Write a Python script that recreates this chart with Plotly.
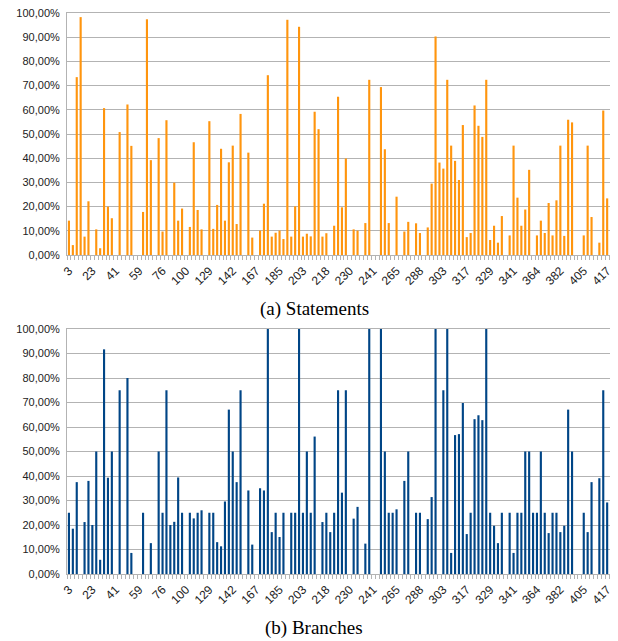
import plotly.graph_objects as go

# Tick labels shown on the category axis (every 6th category)
tick_labels = ["3", "23", "41", "59", "76", "100", "129", "142", "167", "185",
               "203", "218", "230", "241", "265", "288", "303", "317", "329",
               "341", "364", "382", "405", "417"]
label_every = 6
n_categories = 140

# Statement coverage (%) per category
statements = [
    14.2, 4.1, 73.5, 98.3, 7.6, 22.2, 0, 10.6, 2.8, 60.7,
    20.0, 15.2, 0, 50.8, 0, 62.2, 45.1, 0, 0, 17.8,
    97.4, 39.2, 0, 48.3, 9.7, 55.7, 0, 29.9, 14.2, 19.2,
    0, 11.6, 46.6, 18.6, 10.6, 0, 55.3, 10.8, 20.7, 43.9,
    14.2, 38.3, 45.2, 12.8, 58.3, 0, 42.3, 7.2, 0, 10.1,
    21.2, 74.3, 7.6, 9.2, 10.1, 6.6, 97.2, 7.6, 20.1, 94.3,
    7.6, 8.8, 7.7, 59.2, 52.0, 7.6, 9.0, 0, 12.1, 65.4,
    19.7, 39.9, 0, 10.6, 10.1, 0, 13.2, 72.4, 0, 0,
    69.4, 43.7, 13.2, 0, 24.1, 0, 9.7, 13.7, 0, 13.1,
    9.1, 0, 11.4, 29.5, 90.3, 38.2, 35.7, 72.4, 45.2, 38.9,
    31.0, 53.7, 7.4, 9.1, 61.8, 53.4, 48.8, 72.4, 6.2, 12.1,
    5.1, 16.1, 0, 8.1, 45.2, 23.7, 12.1, 18.8, 35.2, 0,
    8.1, 14.2, 9.1, 21.5, 8.1, 22.6, 45.2, 7.9, 55.9, 54.8,
    0, 0, 8.1, 45.2, 15.7, 0, 5.1, 59.7, 23.4, 0,
]

# Branch coverage (%) per category
branches = [
    25, 18.5, 37.5, 0, 21.2, 38, 20, 50, 5.8, 91.7,
    39.3, 50, 0, 75, 0, 80, 8.6, 0, 0, 25,
    0, 12.6, 0, 50, 25, 75, 20, 21.3, 39.4, 25,
    0, 25, 22.7, 25, 26, 0, 25, 25, 13, 11.3,
    29.6, 67.1, 50, 37.5, 75, 0, 34.1, 12, 0, 35,
    34.1, 100, 17.1, 25, 15.1, 25, 0, 25, 25, 100,
    25, 50, 25, 56.1, 0, 21.2, 25, 17.1, 25, 75,
    33.2, 75, 0, 22.6, 27.4, 0, 12.4, 100, 0, 0,
    100, 50, 25, 25, 26.4, 0, 38, 50, 0, 25,
    25, 0, 22.4, 31.4, 100, 0, 75, 100, 8.6, 56.7,
    57.1, 69.8, 16.3, 25, 63.2, 64.8, 62.8, 100, 25, 19.7,
    12.6, 25, 0, 25, 8.6, 25, 25, 50, 50, 25,
    25, 50, 25, 16.7, 25, 25, 17.1, 19.7, 67.1, 50,
    0, 0, 25, 17.1, 37.5, 0, 39.1, 75, 29.2, 0,
]

categories = list(range(n_categories))
tickvals = categories[::label_every][:len(tick_labels)]
y_ticks = list(range(0, 101, 10))
y_text = [f"{v},00%" for v in y_ticks]

grid = "#b3b3b3"
fig = go.Figure()
fig.add_trace(go.Bar(x=categories, y=statements, marker=dict(color="#ff950e", line=dict(width=0)),
                     xaxis="x", yaxis="y", showlegend=False))
fig.add_trace(go.Bar(x=categories, y=branches, marker=dict(color="#004586", line=dict(width=0)),
                     xaxis="x2", yaxis="y2", showlegend=False))

xcommon = dict(
    range=[-0.5, n_categories - 0.5], tickmode="array", tickvals=tickvals, ticktext=tick_labels,
    tickangle=-45, ticks="outside", ticklen=3, tickcolor="rgba(0,0,0,0)",
    tickfont=dict(family="Liberation Sans", size=12, color="#222"),
    showline=True, linecolor=grid, mirror=True, showgrid=False, zeroline=False, automargin=False,
    ticklabeloverflow="allow",
    minor=dict(tickmode="array", tickvals=[c - 0.5 for c in categories] + [n_categories - 0.5],
               ticks="outside", ticklen=4, tickcolor=grid, tickwidth=1, showgrid=False),
)
ycommon = dict(
    range=[0, 100], tickmode="array", tickvals=y_ticks, ticktext=y_text,
    tickfont=dict(family="Liberation Sans", size=11, color="#222"),
    showgrid=True, gridcolor=grid, gridwidth=1, showline=True, linecolor=grid, mirror=True,
    zeroline=False, ticks="", ticklabelstandoff=4, automargin=False,
    ticklabeloverflow="allow",
)

# page body adds an 8px offset; figure is sized to the remaining window
W, H = 610, 633
fig.update_layout(
    width=W, height=H,
    margin=dict(l=59, r=5, t=5, b=67),
    paper_bgcolor="white", plot_bgcolor="white",
    bargap=0.45,
    xaxis=dict(xcommon, anchor="y"),
    yaxis=dict(ycommon, domain=[0.5686, 1.0], anchor="x"),
    xaxis2=dict(xcommon, anchor="y2"),
    yaxis2=dict(ycommon, domain=[0.0, 0.4367], anchor="x2"),
    annotations=[
        dict(text="(a) Statements", xref="paper", yref="paper", x=0.453, y=(566 - 301) / 561,
             xanchor="center", yanchor="middle", showarrow=False,
             font=dict(family="Liberation Serif", size=19, color="black")),
        dict(text="(b) Branches", xref="paper", yref="paper", x=0.453, y=(566 - 620) / 561,
             xanchor="center", yanchor="middle", showarrow=False,
             font=dict(family="Liberation Serif", size=19, color="black")),
    ],
)

fig.write_html("out.html")
